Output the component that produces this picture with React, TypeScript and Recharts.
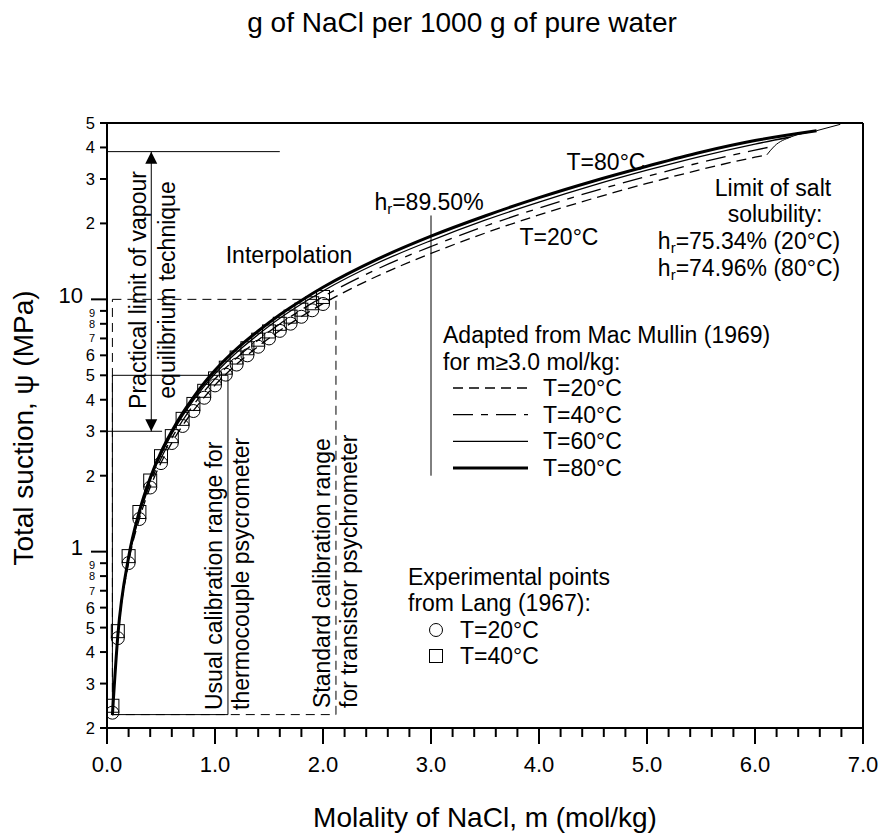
import React from 'react';
import {
  ComposedChart, Line, Scatter, XAxis, YAxis, ReferenceLine, ReferenceArea, ReferenceDot, Customized,
} from 'recharts';

const FONT = '"Liberation Sans", Arial, Helvetica, sans-serif';
const INK = '#000';
const G_PER_MOL = 58.44; // molar mass of NaCl, for the top axis

// experimental points, Lang (1967)
const langMolality = [0.05, 0.1, 0.2, 0.3, 0.4, 0.5, 0.6, 0.7, 0.8, 0.9, 1.0, 1.1, 1.2, 1.3, 1.4, 1.5, 1.6, 1.7, 1.8, 1.9, 2.0];
const lang20 = [0.23, 0.454, 0.901, 1.347, 1.796, 2.244, 2.695, 3.149, 3.609, 4.074, 4.56, 5.03, 5.515, 6.0, 6.49, 7.0, 7.5, 8.01, 8.53, 9.05, 9.585];
const lang40 = [0.245, 0.484, 0.96, 1.436, 1.914, 2.39, 2.87, 3.36, 3.85, 4.34, 4.86, 5.36, 5.88, 6.4, 6.92, 7.46, 8.0, 8.54, 9.1, 9.65, 10.22];

// suction curves (MPa) at each temperature
const curveMolality = [0.05, 0.1, 0.2, 0.3, 0.4, 0.5, 0.6, 0.7, 0.8, 0.9, 1.0, 1.2, 1.4, 1.6, 1.8, 2.0, 2.5, 3.0, 3.5, 4.0, 4.5, 5.0, 5.5, 6.0];
const suction20 = [0.225, 0.455, 0.905, 1.35, 1.8, 2.25, 2.7, 3.16, 3.62, 4.09, 4.57, 5.53, 6.51, 7.52, 8.55, 9.62, 12.35, 15.2, 18.3, 21.6, 25.1, 28.8, 32.7, 36.6];
const suction40 = [0.225, 0.459, 0.923, 1.388, 1.865, 2.34, 2.82, 3.31, 3.81, 4.32, 4.84, 5.86, 6.9, 7.99, 9.09, 10.24, 13.17, 16.2, 19.5, 23.0, 26.8, 30.7, 34.9, 39.05];
const suction60 = [0.225, 0.462, 0.939, 1.42, 1.92, 2.42, 2.93, 3.45, 3.98, 4.52, 5.07, 6.16, 7.25, 8.41, 9.58, 10.79, 13.9, 17.1, 20.6, 24.3, 28.3, 32.5, 36.9, 41.25];
const suction80 = [0.225, 0.464, 0.95, 1.445, 1.96, 2.48, 3.0, 3.54, 4.09, 4.66, 5.23, 6.36, 7.49, 8.69, 9.9, 11.16, 14.4, 17.8, 21.4, 25.3, 29.4, 33.7, 38.3, 42.6];

// limit of salt solubility (end of each curve: 20, 40, 60, 80 °C, then extension)
const solubilityMolality = [6.11, 6.18, 6.33, 6.57, 6.79];
const solubilitySuction = [37.4, 40.5, 44.0, 46.6, 49.4];

const yTicks = [0.2, 0.3, 0.4, 0.5, 0.6, 0.7, 0.8, 0.9, 1, 2, 3, 4, 5, 6, 7, 8, 9, 10, 20, 30, 40, 50];
const bottomTicks = Array.from({ length: 36 }, (_, i) => Math.round(i * 2) / 10);
const topTicks = Array.from({ length: 41 }, (_, i) => i * 10);

const rows = (xs: number[], ys: number[]) => xs.map((m, i) => ({ m, psi: ys[i] }));
const curve = (ys: number[], end: number) => [
  ...rows(curveMolality, ys),
  { m: solubilityMolality[end], psi: solubilitySuction[end] },
];

const data20 = curve(suction20, 0);
const data40 = curve(suction40, 1);
const data60 = curve(suction60, 2);
const data80 = curve(suction80, 3);
const dataSolubility = rows(solubilityMolality, solubilitySuction);
const points20 = rows(langMolality, lang20);
const points40 = rows(langMolality, lang40);

const DASH20 = '10 6';
const DASH40 = '20 8 7 8';

function LeftTick({ x, y, payload }: any) {
  const v = payload.value;
  const major = v === 1 || v === 10;
  const len = major ? 16 : 7;
  const label = v >= 20 ? String(v / 10) : v >= 1 ? String(v) : String(Math.round(v * 10));
  // 7, 8, 9 just below a decade are squeezed together
  const squeezed = ['7', '8', '9'].includes(label) && v < 10;
  return (
    <g>
      <line x1={x - len} x2={x} y1={y} y2={y} stroke={INK} strokeWidth={2} />
      <text x={x - len - (major ? 8 : 5)} y={major ? y - 4 : label === '9' ? y + 2 : y} textAnchor="end" dominantBaseline="central"
        fontSize={major ? 22 : squeezed ? 11 : 16.5} fontFamily={FONT} fill={INK}>{label}</text>
    </g>
  );
}

function BottomTick({ x, y, payload }: any) {
  const v = payload.value;
  const major = Math.abs(v - Math.round(v)) < 1e-6;
  return (
    <g>
      <line x1={x} x2={x} y1={y} y2={y + (major ? 16 : 9)} stroke={INK} strokeWidth={2} />
      {major && (
        <text x={x} y={y + 36} textAnchor="middle" dominantBaseline="central" fontSize={22} fontFamily={FONT} fill={INK}>
          {v.toFixed(1)}
        </text>
      )}
    </g>
  );
}

function TopTick({ x, y, payload }: any) {
  const v = payload.value;
  const major = v % 50 === 0;
  return (
    <g>
      <line x1={x} x2={x} y1={y} y2={y - (major ? 15 : 7)} stroke={INK} strokeWidth={2} />
      {major && (
        <text x={x} y={y - 35} textAnchor="middle" dominantBaseline="central" fontSize={22} fontFamily={FONT} fill={INK}>
          {v}
        </text>
      )}
    </g>
  );
}

const circleShape = (p: any) => <circle cx={p.cx} cy={p.cy} r={6.5} fill="none" stroke={INK} strokeWidth={1} />;
const squareShape = (p: any) => <rect x={p.cx - 6.5} y={p.cy - 6.5} width={13} height={13} fill="none" stroke={INK} strokeWidth={1} />;
const arrowUp = (p: any) => <path d={`M${p.cx},${p.cy} L${p.cx - 6},${p.cy + 12} L${p.cx + 6},${p.cy + 12} Z`} fill={INK} />;
const arrowDown = (p: any) => <path d={`M${p.cx},${p.cy} L${p.cx - 6},${p.cy - 12} L${p.cx + 6},${p.cy - 12} Z`} fill={INK} />;

const T = (props: any) => <text fontFamily={FONT} fontSize={23} fill={INK} dominantBaseline="central" {...props} />;

const Hr = ({ x, y, rest, anchor = 'middle' }: any) => (
  <T x={x} y={y} textAnchor={anchor}>
    h<tspan fontSize={15} dy={6}>r</tspan><tspan dy={-6}>{rest}</tspan>
  </T>
);

function Annotations() {
  const legend = [
    { label: 'T=20°C', dash: DASH20, w: 1.3 },
    { label: 'T=40°C', dash: DASH40, w: 1.3 },
    { label: 'T=60°C', dash: undefined, w: 1.3 },
    { label: 'T=80°C', dash: undefined, w: 3 },
  ];
  return (
    <g>
      {/* axis titles */}
      <text x={462} y={22} textAnchor="middle" dominantBaseline="central" fontSize={28} fontFamily={FONT}>
        g of NaCl per 1000 g of pure water
      </text>
      <text x={485} y={817} textAnchor="middle" dominantBaseline="central" fontSize={28} fontFamily={FONT}>
        Molality of NaCl, m (mol/kg)
      </text>
      <text x={23} y={428} textAnchor="middle" dominantBaseline="central" fontSize={28} fontFamily={FONT}
        transform="rotate(-90 23 428)">
        Total suction, ψ (MPa)
      </text>

      {/* rotated notes */}
      <T x={138} y={290} textAnchor="middle" transform="rotate(-90 138 290)">Practical limit of vapour</T>
      <T x={167} y={290} textAnchor="middle" transform="rotate(-90 167 290)">equilibrium technique</T>
      <T x={214} y={710} textAnchor="start" transform="rotate(-90 214 710)">Usual calibration range for</T>
      <T x={241} y={710} textAnchor="start" transform="rotate(-90 241 710)">thermocouple psycrometer</T>
      <T x={322} y={708} textAnchor="start" transform="rotate(-90 322 708)">Standard calibration range</T>
      <T x={349} y={708} textAnchor="start" transform="rotate(-90 349 708)">for transistor psychrometer</T>

      <T x={289} y={255} textAnchor="middle">Interpolation</T>
      <Hr x={429} y={202} rest="=89.50%" />
      <T x={606} y={162} textAnchor="middle">T=80°C</T>
      <T x={559} y={237} textAnchor="middle">T=20°C</T>

      <T x={773} y={188} textAnchor="middle">Limit of salt</T>
      <T x={775} y={214} textAnchor="middle">solubility:</T>
      <Hr x={749} y={241} rest="=75.34% (20°C)" />
      <Hr x={749} y={268} rest="=74.96% (80°C)" />

      {/* curve legend */}
      <T x={443} y={335}>Adapted from Mac Mullin (1969)</T>
      <T x={443} y={362}>for m≥3.0 mol/kg:</T>
      {legend.map((l, i) => (
        <g key={l.label}>
          <line x1={453} x2={528} y1={388 + i * 26.7} y2={388 + i * 26.7} stroke={INK} strokeWidth={l.w} strokeDasharray={l.dash} />
          <T x={543} y={388 + i * 26.7}>{l.label}</T>
        </g>
      ))}

      {/* points legend */}
      <T x={408} y={577}>Experimental points</T>
      <T x={408} y={603}>from Lang (1967):</T>
      <circle cx={436} cy={630} r={6.5} fill="none" stroke={INK} strokeWidth={1} />
      <T x={460} y={630}>T=20°C</T>
      <rect x={429.5} y={649.5} width={13} height={13} fill="none" stroke={INK} strokeWidth={1} />
      <T x={460} y={656}>T=40°C</T>
    </g>
  );
}

export default function App() {
  return (
    <div style={{ position: 'absolute', left: 0, top: 0, background: '#fff' }}>
      <ComposedChart width={882} height={837} margin={{ top: 83, right: 19, bottom: 59, left: 47 }}>
        <XAxis xAxisId="m" dataKey="m" type="number" domain={[0, 7]} ticks={bottomTicks} interval={0}
          allowDataOverflow height={50} tickSize={0} tickMargin={0} tickLine={false} tick={<BottomTick />}
          axisLine={{ stroke: INK, strokeWidth: 2 }} />
        <XAxis xAxisId="g" orientation="top" type="number" domain={[0, 7 * G_PER_MOL]} ticks={topTicks} interval={0}
          allowDataOverflow height={40} tickSize={0} tickMargin={0} tickLine={false} tick={<TopTick />}
          axisLine={{ stroke: INK, strokeWidth: 2 }} />
        <YAxis dataKey="psi" type="number" scale="log" domain={[0.2, 50]} ticks={yTicks} interval={0}
          allowDataOverflow width={60} tickSize={0} tickMargin={0} tickLine={false} tick={<LeftTick />}
          axisLine={{ stroke: INK, strokeWidth: 2 }} />

        <ReferenceLine xAxisId="m" x={7} stroke={INK} strokeWidth={2} />

        {/* calibration ranges */}
        <ReferenceArea xAxisId="m" x1={0.05} x2={2.12} y1={0.226} y2={10} fill="none" stroke={INK} strokeWidth={1} strokeDasharray="9 6" />
        <ReferenceArea xAxisId="m" x1={0.05} x2={1.12} y1={0.226} y2={5} fill="none" stroke={INK} strokeWidth={1} />

        {/* practical limit of vapour equilibrium technique */}
        <ReferenceLine xAxisId="m" segment={[{ x: 0, y: 38.5 }, { x: 1.6, y: 38.5 }]} stroke={INK} strokeWidth={1} />
        <ReferenceLine xAxisId="m" segment={[{ x: 0, y: 3 }, { x: 0.51, y: 3 }]} stroke={INK} strokeWidth={1} />
        <ReferenceLine xAxisId="m" segment={[{ x: 0.41, y: 3 }, { x: 0.41, y: 38.5 }]} stroke={INK} strokeWidth={1} />
        <ReferenceDot xAxisId="m" x={0.41} y={38.5} shape={arrowUp} />
        <ReferenceDot xAxisId="m" x={0.41} y={3} shape={arrowDown} />

        {/* hr = 89.50 % at m = 3.0 */}
        <ReferenceLine xAxisId="m" segment={[{ x: 3, y: 2 }, { x: 3, y: 21.5 }]} stroke={INK} strokeWidth={1} />

        <Line xAxisId="m" data={data20} dataKey="psi" type="monotone" stroke={INK} strokeWidth={1.3} strokeDasharray={DASH20} dot={false} isAnimationActive={false} />
        <Line xAxisId="m" data={data40} dataKey="psi" type="monotone" stroke={INK} strokeWidth={1.3} strokeDasharray={DASH40} dot={false} isAnimationActive={false} />
        <Line xAxisId="m" data={data60} dataKey="psi" type="monotone" stroke={INK} strokeWidth={1.3} dot={false} isAnimationActive={false} />
        <Line xAxisId="m" data={data80} dataKey="psi" type="monotone" stroke={INK} strokeWidth={3} dot={false} isAnimationActive={false} />
        <Line xAxisId="m" data={dataSolubility} dataKey="psi" type="monotone" stroke={INK} strokeWidth={1} dot={false} isAnimationActive={false} />

        <Scatter xAxisId="m" data={points20} dataKey="psi" shape={circleShape} isAnimationActive={false} />
        <Scatter xAxisId="m" data={points40} dataKey="psi" shape={squareShape} isAnimationActive={false} />

        <Customized component={Annotations} />
      </ComposedChart>
    </div>
  );
}
